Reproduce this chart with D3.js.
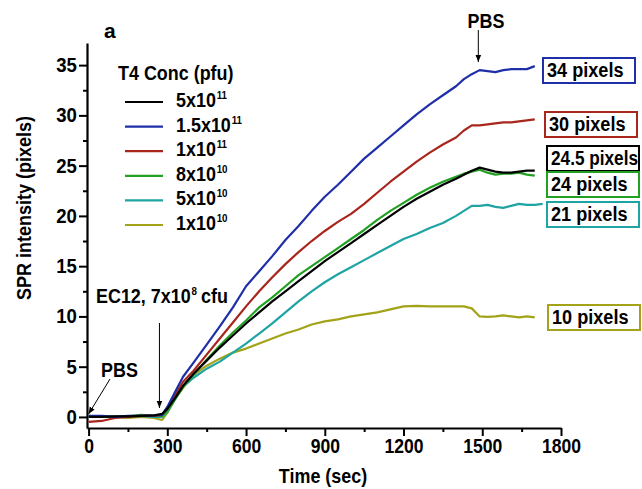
<!DOCTYPE html>
<html>
<head>
<meta charset="utf-8">
<script src="https://cdn.jsdelivr.net/npm/d3@7"></script>
<style>
  html, body { margin: 0; padding: 0; background: #fff; }
  svg text { font-family: "Liberation Sans", Arial, sans-serif; font-weight: bold; fill: #000; }
</style>
</head>
<body>
<svg id="chart" width="642" height="489"></svg>
<script>
// ---------- data ----------
const time = [0,50,100,150,200,250,280,300,330,360,400,450,500,550,600,650,700,750,800,850,900,950,1000,1050,1100,1150,1200,1250,1300,1350,1400,1430,1460,1490,1520,1550,1580,1610,1640,1670,1700,1730];

const black5e11 = [0.0,0.0,0.05,0.05,0.1,0.15,0.3,0.8,1.9,3.1,4.3,5.6,6.9,8.1,9.3,10.4,11.5,12.5,13.5,14.5,15.5,16.4,17.3,18.2,19.1,20.0,20.9,21.7,22.4,23.1,23.7,24.1,24.5,24.8,24.6,24.4,24.3,24.3,24.4,24.5,24.5,null];
const blue15e11 = [0.1,0.1,0.0,0.1,0.1,0.15,0.2,1.0,2.5,4.0,5.4,7.2,9.0,10.9,13.0,14.5,16.0,17.6,19.0,20.5,21.9,23.1,24.4,25.7,26.8,27.9,29.0,30.1,31.1,32.0,32.9,33.6,34.1,34.5,34.4,34.3,34.5,34.6,34.6,34.6,34.9,null];
const red1e11 = [-0.5,-0.4,-0.1,0.0,0.1,0.1,0.2,0.9,2.2,3.5,4.6,6.2,7.8,9.4,11.0,12.5,13.9,15.2,16.4,17.5,18.5,19.4,20.2,21.2,22.3,23.4,24.4,25.4,26.3,27.1,27.8,28.5,29.0,29.0,29.1,29.2,29.3,29.3,29.4,29.5,29.6,null];
const green8e10 = [0.1,0.0,0.0,0.05,0.2,0.1,0.1,0.6,1.8,3.0,4.2,5.7,7.1,8.4,9.6,10.9,11.9,13.0,14.1,15.0,15.9,16.8,17.7,18.6,19.6,20.5,21.3,22.1,22.8,23.4,23.9,24.2,24.4,24.6,24.3,24.1,24.2,24.2,24.3,24.1,24.0,null];
const teal5e10 = [0.0,0.0,0.0,0.05,0.1,0.0,0.0,0.5,1.8,3.0,3.9,4.8,5.5,6.4,7.3,8.3,9.3,10.4,11.5,12.5,13.4,14.2,14.9,15.6,16.3,17.0,17.7,18.2,18.8,19.3,20.0,20.5,21.0,21.0,21.1,20.9,20.8,21.0,21.2,21.1,21.1,21.2];
const olive1e10 = [0.0,0.0,0.0,-0.1,0.0,-0.1,-0.3,0.4,1.8,2.9,4.2,5.1,5.8,6.4,6.8,7.3,7.8,8.3,8.7,9.2,9.5,9.7,10.0,10.2,10.4,10.7,11.0,11.05,11.0,11.0,11.0,11.0,10.8,10.0,9.95,10.0,10.1,10.0,9.9,10.0,9.9,null];

const seriesBase = ["5x10","1.5x10","1x10","8x10","5x10","1x10"];
const seriesExp = ["11","11","11","10","10","10"];
const seriesColors = ["#000000","#1f2fa8","#a8261c","#22a022","#1fa3a3","#a3a31a"];
const seriesValues = [black5e11, blue15e11, red1e11, green8e10, teal5e10, olive1e10];

const xTicks = [0,300,600,900,1200,1500,1800];
const yTicks = [0,5,10,15,20,25,30,35];

const boxLabels = ["34 pixels","30 pixels","24.5 pixels","24 pixels","21 pixels","10 pixels"];
const boxColors = ["#1f2fa8","#a8261c","#000000","#22a022","#1fa3a3","#a3a31a"];

// ---------- layout ----------
const svg = d3.select("#chart");
const x = d3.scaleLinear().domain([-6, 1800]).range([87, 561]);
const y = d3.scaleLinear().domain([-1.1, 37.2]).range([428, 43]);

const SX = 0.92; // reference glyphs are slightly narrow
// text placed with a horizontal squeeze; returns [selection, rendered width]
function label(parent, x0, y0, str, size, sx = SX, anchor = "start") {
  const t = parent.append("text").attr("text-anchor", anchor)
    .attr("transform", `translate(${x0},${y0}) scale(${sx},1)`)
    .style("font-size", size + "px").text(str);
  return [t, t.node().getComputedTextLength() * sx];
}
function supText(parent, x0, y0, base, exp, tail) {
  const [, bw] = label(parent, x0, y0, base, 19.5);
  const [, ew] = label(parent, x0 + bw + 0.8, y0 - 8, exp, 11.5, 0.85);
  if (tail) label(parent, x0 + bw + ew + 5, y0, tail, 19.5);
}

svg.append("defs").append("marker")
  .attr("id","arrow").attr("viewBox","0 0 10 10").attr("refX",10).attr("refY",5)
  .attr("markerWidth",7).attr("markerHeight",7).attr("markerUnits","userSpaceOnUse")
  .attr("orient","auto")
  .append("path").attr("d","M0,1 L10,5 L0,9 Z").attr("fill","#000");

// minor ticks
svg.append("g").attr("transform","translate(0,428)")
  .call(d3.axisBottom(x).tickValues(d3.range(150,1800,300)).tickSize(4).tickFormat(""))
  .call(g => g.select(".domain").remove())
  .call(g => g.selectAll("line").attr("stroke-width",2));
svg.append("g").attr("transform","translate(87,0)")
  .call(d3.axisLeft(y).tickValues(d3.range(2.5,37,5)).tickSize(4).tickFormat(""))
  .call(g => g.select(".domain").remove())
  .call(g => g.selectAll("line").attr("stroke-width",2));

// major axes
const gx = svg.append("g").attr("transform","translate(0,428)")
  .call(d3.axisBottom(x).tickValues(xTicks).tickFormat(d3.format("d")).tickSize(8).tickSizeOuter(0).tickPadding(3));
gx.select(".domain").attr("stroke-width",2.2);
gx.selectAll("line").attr("stroke-width",2);
gx.selectAll("text").style("font-size","19.5px").attr("fill","#000").attr("transform","scale(0.9,1)");

const gy = svg.append("g").attr("transform","translate(87,0)")
  .call(d3.axisLeft(y).tickValues(yTicks).tickSize(8).tickSizeOuter(0).tickPadding(2.8));
gy.select(".domain").attr("stroke-width",2.2);
gy.selectAll("line").attr("stroke-width",2);
gy.selectAll("text").style("font-size","20px").attr("fill","#000").attr("transform","scale(0.93,1)");

// axis titles
label(svg, 323, 483, "Time (sec)", 19.5, SX, "middle");
{
  const t = svg.append("text").attr("text-anchor","middle").style("font-size","19.5px").text("SPR intensity (pixels)");
  const s = 184 / t.node().getComputedTextLength();
  t.attr("transform", `translate(31,208) rotate(-90) scale(${s},1)`);
}
label(svg, 104, 38, "a", 21, 1);

// lines
const line = d3.line()
  .defined(d => d[1] !== null)
  .x(d => x(d[0])).y(d => y(d[1]));
[5,4,3,2,1,0].forEach(i => {
  const pts = time.map((t, k) => [t, seriesValues[i][k]]);
  svg.append("path").attr("d", line(pts)).attr("fill","none")
    .attr("stroke", seriesColors[i]).attr("stroke-width",2.2)
    .attr("stroke-linejoin","round");
});

// legend
const lg = svg.append("g");
label(lg, 118, 80, "T4 Conc (pfu)", 19.5);
seriesBase.forEach((base, i) => {
  const cy = 102 + i * 24.6;
  lg.append("line").attr("x1",125).attr("x2",163).attr("y1",cy).attr("y2",cy)
    .attr("stroke",seriesColors[i]).attr("stroke-width",2.2);
  supText(lg, 176, cy + 5, base, seriesExp[i]);
});

// right-side boxes
const boxTop = [58,112,146,172,202,305];
const boxLeft = [543,545,547,547,547,548];
boxLabels.forEach((s, i) => {
  svg.append("rect").attr("x",boxLeft[i]).attr("y",boxTop[i]).attr("width",92).attr("height",25)
    .attr("fill","none").attr("stroke",boxColors[i]).attr("stroke-width",2);
  const [t, w] = label(svg, boxLeft[i] + 4, boxTop[i] + 19, s, 19.5, 0.93);
  if (w > 87) t.attr("transform", `translate(${boxLeft[i] + 4},${boxTop[i] + 19}) scale(${0.93 * 87 / w},1)`);
});

// annotations
label(svg, 486, 28, "PBS", 19.5, SX, "middle");
svg.append("line").attr("x1",x(1485)).attr("x2",x(1485)).attr("y1",30).attr("y2",62)
  .attr("stroke","#000").attr("stroke-width",1).attr("marker-end","url(#arrow)");

label(svg, 101, 377, "PBS", 19.5);
svg.append("line").attr("x1",110).attr("y1",379).attr("x2",x(0)).attr("y2",414)
  .attr("stroke","#000").attr("stroke-width",1).attr("marker-end","url(#arrow)");

supText(svg, 96, 303, "EC12, 7x10", "8", "cfu");
svg.append("line").attr("x1",x(270)).attr("x2",x(270)).attr("y1",323).attr("y2",408)
  .attr("stroke","#000").attr("stroke-width",1).attr("marker-end","url(#arrow)");
</script>
</body>
</html>
